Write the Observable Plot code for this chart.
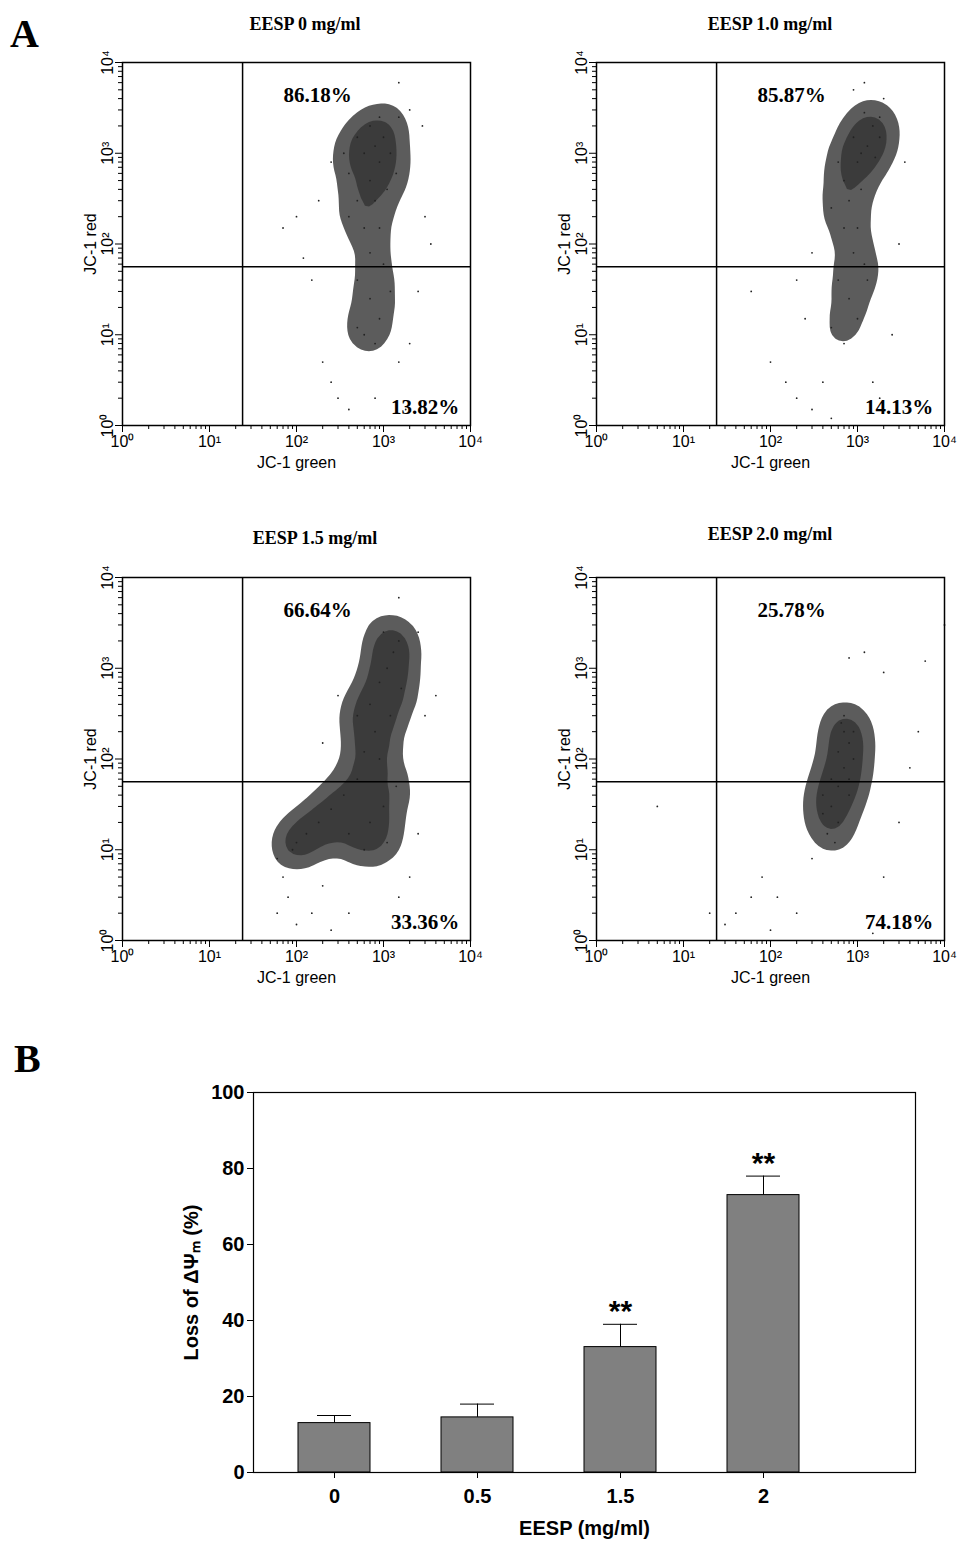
<!DOCTYPE html>
<html><head><meta charset="utf-8">
<script src="https://cdn.jsdelivr.net/npm/d3@7"></script>
<script src="https://cdn.jsdelivr.net/npm/@observablehq/plot@0.6"></script>
<style>
body{margin:0;background:#fff;}
#wrap{position:relative;width:961px;height:1546px;font-family:"Liberation Sans",Arial,sans-serif;}
.p{position:absolute;}
.t{position:absolute;font-family:"Liberation Serif",serif;font-weight:bold;font-size:18px;transform:translateX(-50%);white-space:nowrap;}
.lt{position:absolute;font-family:"Liberation Serif",serif;font-weight:bold;font-size:40px;}
</style></head><body>
<div id="wrap">
<div class="lt" style="left:10px;top:10px">A</div>
<div class="lt" style="left:14px;top:1035px">B</div>
</div>
<script>
// panel titles and quadrant percentages
const titles = ["EESP 0 mg/ml", "EESP 1.0 mg/ml", "EESP 1.5 mg/ml", "EESP 2.0 mg/ml"];
const upperPct = ["86.18%", "85.87%", "66.64%", "25.78%"];
const lowerPct = ["13.82%", "14.13%", "33.36%", "74.18%"];

// estimated cloud cores (JC-1 green, JC-1 red)
const core0 = [[500,300],[700,500],[900,800],[600,1000],[1000,1500],[700,2000],[1200,1000],[400,600],[800,300],[1100,400],[600,150],[900,150],[700,80],[1000,60],[500,40],[700,25],[900,15],[600,10],[800,8],[500,12],[1200,30],[800,1200],[900,2500],[500,1500],[400,200],[1400,600],[1500,2500],[350,1000]];
const core1 = [[700,500],[1000,800],[1300,1200],[900,1500],[1500,2000],[1200,2800],[800,300],[1100,400],[1600,900],[700,150],[1000,150],[900,80],[1200,60],[600,40],[800,25],[1000,15],[500,12],[700,8],[1300,40],[1100,1000],[1800,2500],[600,800],[500,250],[1800,1500]];
const core2 = [[700,400],[900,700],[1100,1000],[1300,1500],[1500,2000],[800,200],[1200,300],[600,120],[900,100],[500,60],[350,40],[250,28],[180,20],[130,15],[100,12],[90,10],[400,15],[700,20],[1000,30],[1400,50],[600,10],[1100,12],[1600,600],[500,300],[1000,2500]];
const core3 = [[500,30],[600,50],[700,80],[600,120],[800,150],[700,200],[500,60],[400,25],[600,20],[800,40],[700,300],[900,100],[450,15],[550,12],[650,250],[800,60],[400,40],[900,200]];

// estimated stray events
const stray0 = [[70,150],[100,200],[150,40],[200,5],[250,3],[300,2],[400,1.5],[1500,5],[2000,8],[2500,30],[3000,200],[3500,100],[2000,3000],[1500,6000],[250,800],[180,300],[1800,1.5],[800,2],[120,70],[2800,2000]];
const stray1 = [[60,30],[100,5],[150,3],[200,2],[300,1.5],[1500,3],[2500,10],[3000,100],[2000,4000],[1200,6000],[300,80],[200,40],[250,15],[1800,2],[400,3],[3500,800],[500,1.2],[900,5000]];
const stray2 = [[60,2],[70,5],[80,3],[100,1.5],[150,2],[200,4],[250,1.3],[400,2],[1500,3],[2000,5],[2500,15],[3000,300],[4000,500],[2500,2500],[1500,6000],[300,500],[200,150],[60,8]];
const stray3 = [[30,1.5],[40,2],[60,3],[80,5],[120,3],[200,2],[300,8],[5,30],[1500,1.2],[2000,5],[3000,20],[5000,200],[6000,1200],[1200,1500],[800,1300],[2000,900],[10000,3000],[20,2],[4000,80],[100,1.3]];

const cores = [core0, core1, core2, core3];
const strays = [stray0, stray1, stray2, stray3];
const pos = [[72,42],[546,42],[72,557],[546,557]];
const titlePos = [[305,14],[770,14],[315,528],[770,524]];

// bar chart data
const doses = ["0", "0.5", "1.5", "2"];
const loss = [13, 14.5, 33, 73];
const errs = [2, 3.5, 6, 5];
const stars = ["", "", "**", "**"];

const sup = {"0":"⁰","1":"¹","2":"²","3":"³","4":"⁴"};
const majors = [1, 10, 100, 1000, 10000];
const minors = d3.range(0, 4).flatMap(e => d3.range(2, 10).map(k => k * 10 ** e));
const fmt = d => "10" + sup[Math.round(Math.log10(d))];
const wrap = document.getElementById("wrap");

cores.forEach((core, i) => {
  const plot = Plot.plot({
    width: 420, height: 433,
    marginLeft: 50, marginRight: 22, marginTop: 20, marginBottom: 50,
    style: {fontFamily: "Liberation Sans, Arial, sans-serif", fontSize: "15px"},
    x: {type: "log", domain: [1, 10000]},
    y: {type: "log", domain: [1, 10000]},
    marks: [
      Plot.density(core, {x: d => d[0], y: d => d[1], fill: "#333", bandwidth: 17, thresholds: 3, fillOpacity: 0.8}),
      Plot.dot(core.concat(strays[i]), {x: d => d[0], y: d => d[1], r: 0.9, fill: "#222"}),
      Plot.frame({stroke: "black", strokeWidth: 1.5}),
      Plot.ruleX([24], {strokeWidth: 1.5}),
      Plot.ruleY([56], {strokeWidth: 1.5}),
      Plot.axisX({ticks: majors, tickFormat: fmt, tickSize: 7, label: "JC-1 green", labelAnchor: "center", labelArrow: "none", labelOffset: 42, fontSize: 16}),
      Plot.axisX({ticks: minors, tickFormat: () => "", tickSize: 4, label: null}),
      Plot.axisY({ticks: majors, tickFormat: fmt, tickSize: 7, tickRotate: -90, label: "JC-1 red", labelAnchor: "center", labelArrow: "none", labelOffset: 38, fontSize: 16}),
      Plot.axisY({ticks: minors, tickFormat: () => "", tickSize: 4, label: null}),
      Plot.text([upperPct[i]], {x: 175, y: 4300, text: d => d, fontFamily: "Liberation Serif, serif", fontWeight: "bold", fontSize: 21}),
      Plot.text([lowerPct[i]], {x: 3000, y: 1.6, text: d => d, fontFamily: "Liberation Serif, serif", fontWeight: "bold", fontSize: 21})
    ]
  });
  plot.classList.add("p");
  plot.style.left = pos[i][0] + "px";
  plot.style.top = pos[i][1] + "px";
  wrap.append(plot);
  const t = document.createElement("div");
  t.className = "t";
  t.textContent = titles[i];
  t.style.left = titlePos[i][0] + "px";
  t.style.top = titlePos[i][1] + "px";
  wrap.append(t);
});

const bars = doses.map((d, i) => ({dose: d, v: loss[i], e: errs[i], s: stars[i]}));
const bar = Plot.plot({
  width: 762, height: 470,
  marginLeft: 90, marginRight: 10, marginTop: 20, marginBottom: 70,
  style: {fontFamily: "Liberation Sans, Arial, sans-serif", fontSize: "20px", fontWeight: "bold"},
  x: {domain: doses, paddingInner: 0.5, paddingOuter: 0, insetLeft: 44, insetRight: 115, label: null},
  y: {domain: [0, 100]},
  marks: [
    Plot.barY(bars, {x: "dose", y: "v", fill: "#808080", stroke: "black", strokeWidth: 1}),
    Plot.ruleX(bars, {x: "dose", y1: "v", y2: d => d.v + d.e, strokeWidth: 1}),
    Plot.tickY(bars, {x: "dose", y: d => d.v + d.e, inset: 19, strokeWidth: 1}),
    Plot.text(bars, {x: "dose", y: d => d.v + d.e + 4, text: "s", fontSize: 30, fontWeight: "bold", dy: 2}),
    Plot.frame({stroke: "black", strokeWidth: 1.2}),
    Plot.axisX({tickSize: 6, tickPadding: 10, fontSize: 20, label: "EESP (mg/ml)", labelAnchor: "center", labelArrow: "none", labelOffset: 62}),
    Plot.axisY({ticks: [0, 20, 40, 60, 80, 100], tickSize: 6, fontSize: 20, label: "Loss of ΔΨₘ (%)", labelAnchor: "center", labelArrow: "none", labelOffset: 70})
  ]
});
bar.classList.add("p");
bar.style.left = "163px";
bar.style.top = "1072px";
wrap.append(bar);
</script>
</body></html>
